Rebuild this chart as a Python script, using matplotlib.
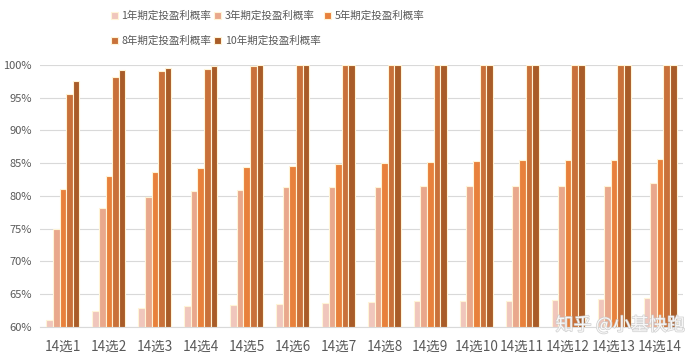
import matplotlib
matplotlib.use("Agg")
import matplotlib.pyplot as plt
import numpy as np
import matplotlib.patheffects as pe

plt.rcParams['font.family'] = ['Noto Sans CJK SC', 'DejaVu Sans']

categories = [f"14选{i}" for i in range(1, 15)]
series_names = ["1年期定投盈利概率", "3年期定投盈利概率", "5年期定投盈利概率",
                "8年期定投盈利概率", "10年期定投盈利概率"]
y1 = [61.0, 62.4, 62.9, 63.2, 63.4, 63.5, 63.7, 63.8, 64.0, 64.0, 64.0, 64.1, 64.3, 64.4]
y3 = [74.9, 78.2, 79.9, 80.7, 80.9, 81.3, 81.4, 81.4, 81.5, 81.5, 81.5, 81.5, 81.5, 82.0]
y5 = [81.0, 83.1, 83.7, 84.2, 84.5, 84.6, 84.9, 85.1, 85.2, 85.4, 85.5, 85.5, 85.5, 85.7]
y8 = [95.6, 98.2, 99.1, 99.4, 99.8, 100, 100, 100, 100, 100, 100, 100, 100, 100]
y10 = [97.5, 99.2, 99.6, 99.8, 100, 100, 100, 100, 100, 100, 100, 100, 100, 100]
yticks = [60, 65, 70, 75, 80, 85, 90, 95, 100]

colors = ["#F0C6BC", "#E9A88C", "#E8813C", "#C9713A", "#A95C28"]
series = [y1, y3, y5, y8, y10]

fig = plt.figure(figsize=(6.92, 3.59), dpi=100)
ax = fig.add_axes([40/692, (359-327)/359, (683-40)/692, (327-65)/359])

x = np.arange(len(categories))
n = len(series)
bw = 0.72 / n
for i, (vals, c, name) in enumerate(zip(series, colors, series_names)):
    off = (i - (n - 1) / 2) * bw
    ax.bar(x + off, np.array(vals) - 60, bottom=60, width=bw, color=c,
           edgecolor="#FFF4D6", linewidth=0.8, label=name, zorder=3)

ax.set_ylim(60, 100)
ax.set_xlim(-0.5, len(categories) - 0.5)
ax.set_yticks(yticks)
ax.set_yticklabels([f"{v}%" for v in yticks], fontsize=8, color="#595959")
ax.set_xticks(x)
ax.set_xticklabels(categories, fontsize=9.8, color="#595959")
ax.tick_params(axis='x', length=0, pad=9)
ax.tick_params(axis='y', length=0, pad=6)
ax.grid(axis='y', color="#D9D9D9", linewidth=0.8, zorder=0)
for s in ["top", "right", "left"]:
    ax.spines[s].set_visible(False)
ax.spines["bottom"].set_color("#D9D9D9")

handles, labels = ax.get_legend_handles_labels()
order = [0, 3, 1, 4, 2]
leg = fig.legend([handles[k] for k in order], [labels[k] for k in order],
                 loc="upper left", bbox_to_anchor=(104/692, 1.0 - 4/359),
                 ncol=3, frameon=False, fontsize=7.6, handlelength=0.65, handleheight=0.65,
                 handletextpad=0.35, columnspacing=0.3, labelspacing=1.35,
                 borderaxespad=0.25)
for t in leg.get_texts():
    t.set_color("#595959")

fig.text(620/692, (359-325)/359, "知乎 @小基快跑", fontsize=13, color="white", alpha=0.85,
         ha="center", va="center",
         path_effects=[pe.withStroke(linewidth=1.0, foreground="#C8C8C8")], zorder=10)

fig.savefig("out.png", dpi=100)
